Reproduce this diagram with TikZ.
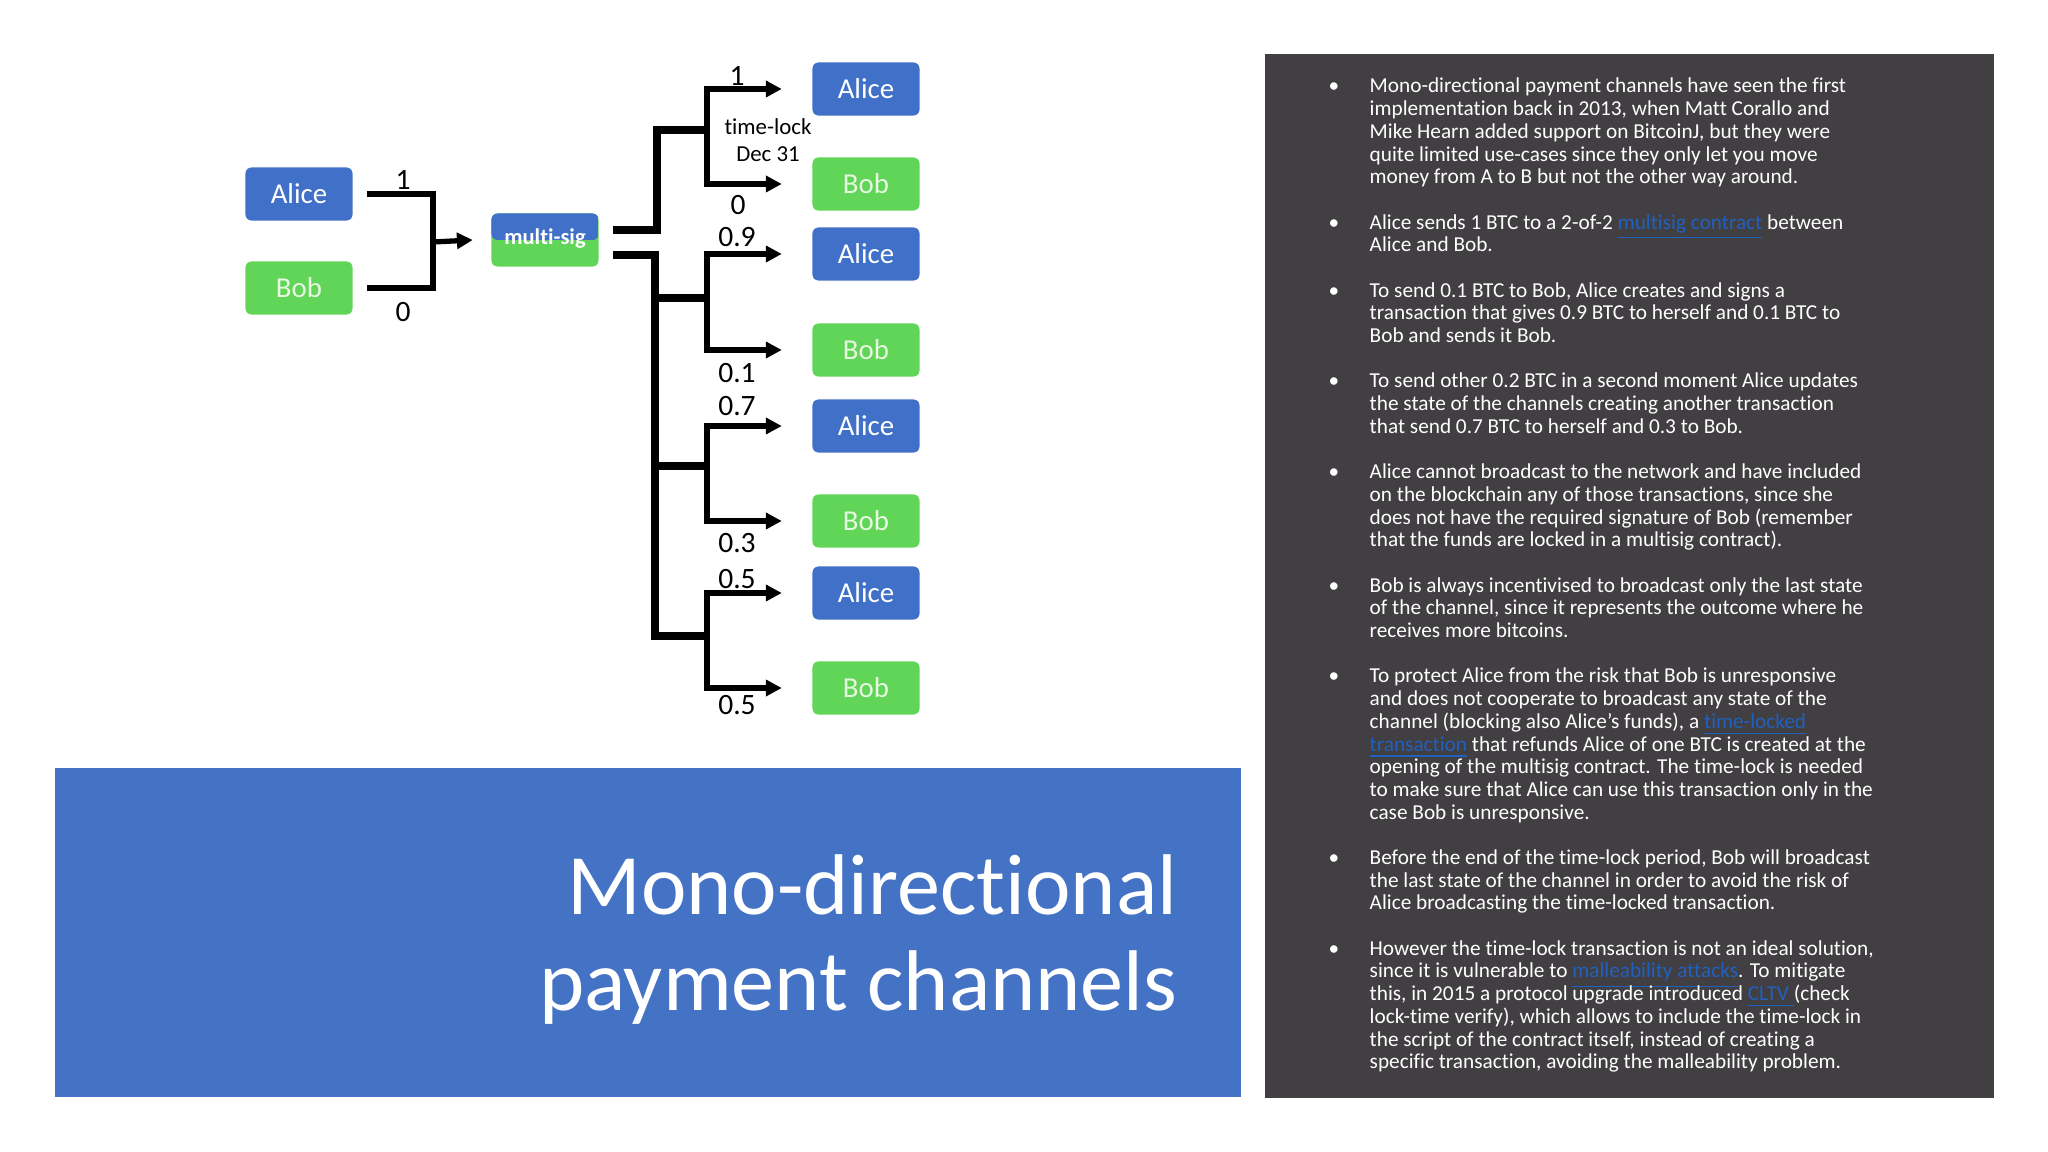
\documentclass[tikz,border=0pt]{standalone}
\usepackage{fontspec}
\setmainfont{Carlito}[Ligatures=NoCommon]
\usetikzlibrary{arrows.meta}
\definecolor{slideblue}{RGB}{68,114,196}
\definecolor{boxblue}{RGB}{64,112,200}
\definecolor{boxgreen}{RGB}{96,213,88}
\definecolor{bobtext}{RGB}{232,248,224}
\definecolor{panelgray}{RGB}{66,63,66}
\definecolor{linkblue}{RGB}{32,96,190}
\newcommand{\lnk}[1]{\smash{\textcolor{linkblue}{\underline{#1}}}}
\newcommand{\plines}[1]{\begin{tabular}[t]{@{}l@{}}#1\end{tabular}}

\begin{document}
\begin{tikzpicture}[x=0.01cm,y=-0.01cm,
  party/.style={rounded corners=0.06cm, minimum width=1.07cm, minimum height=0.53cm, inner sep=0, font=\fontsize{8.2}{9}\selectfont},
  alice/.style={party, fill=boxblue, text=white},
  bob/.style={party, fill=boxgreen, text=bobtext},
  wire/.style={line width=1.5pt},
  trunk/.style={line width=2pt},
  tip/.style={-{Triangle[length=4.5pt,width=4.5pt]}},
  amt/.style={inner sep=0, font=\fontsize{8.4}{9}\selectfont},
  title/.style={anchor=base east, inner sep=0, text=white, font=\fontsize{24.5}{27}\selectfont},
  para/.style={anchor=base west, inner sep=0, text=white, font=\fontsize{6.05}{6.455}\selectfont},
  bul/.style={anchor=base, inner sep=0, text=white, font=\fontsize{6.05}{6.455}\selectfont}]
  \useasboundingbox (0,0) rectangle (2048,1152);

  % funding
  \node[alice] (la) at (299,194) {Alice};
  \node[bob] (lb) at (299,288) {Bob};
  \node[party, fill=boxgreen, text=white, font=\bfseries\fontsize{6.4}{7}\selectfont,
    path picture={\fill[boxblue] (path picture bounding box.north west) rectangle (path picture bounding box.east);}]
    (ms) at (545,240) {\raisebox{2pt}{multi-sig}};
  \node[amt] (l1) at (403,180) {1};
  \node[amt] (l0) at (403,312) {0};
  \coordinate (jl) at (433,242);
  \draw[wire] ([xshift=0.14cm]la.east) -| (jl) |- ([xshift=0.14cm]lb.east);
  \draw[wire,tip] (jl) -- ([xshift=-0.18cm]ms.west);

  % channel states
  \node[alice] (a1) at (866,89) {Alice};
  \node[bob] (b1) at (866,184) {Bob};
  \node[alice] (a2) at (866,254) {Alice};
  \node[bob] (b2) at (866,350) {Bob};
  \node[alice] (a3) at (866,426) {Alice};
  \node[bob] (b3) at (866,521) {Bob};
  \node[alice] (a4) at (866,593) {Alice};
  \node[bob] (b4) at (866,688) {Bob};
  \coordinate (g1) at (707,130);
  \coordinate (g2) at (707,298);
  \coordinate (g3) at (707,466);
  \coordinate (g4) at (707,636);
  \draw[trunk] ([shift={(14,-10)}]ms.east) -| (657,130) -- (g1);
  \draw[trunk] ([shift={(14,15)}]ms.east) -| (655,636) -- (g4);
  \draw[trunk] (655,298) -- (g2);
  \draw[trunk] (655,466) -- (g3);
  \draw[wire,tip,shorten >=0.3cm] (g1) |- (a1);
  \draw[wire,tip,shorten >=0.3cm] (g1) |- (b1);
  \draw[wire,tip,shorten >=0.3cm] (g2) |- (a2);
  \draw[wire,tip,shorten >=0.3cm] (g2) |- (b2);
  \draw[wire,tip,shorten >=0.3cm] (g3) |- (a3);
  \draw[wire,tip,shorten >=0.3cm] (g3) |- (b3);
  \draw[wire,tip,shorten >=0.3cm] (g4) |- (a4);
  \draw[wire,tip,shorten >=0.3cm] (g4) |- (b4);
  \node[amt] (v1) at (737,76) {1};
  \node[inner sep=0, align=center, font=\fontsize{6.5}{7.7}\selectfont] (lock) at (768,140) {time-lock\\Dec 31};
  \node[amt] (w1) at (738,205) {0};
  \node[amt] (v2) at (737,237) {0.9};
  \node[amt] (w2) at (737,373) {0.1};
  \node[amt] (v3) at (737,406) {0.7};
  \node[amt] (w3) at (737,543) {0.3};
  \node[amt] (v4) at (737,579) {0.5};
  \node[amt] (w4) at (737,705) {0.5};

  % title
  \fill[slideblue] (55,768) rectangle (1241,1097);
  \node[title] (t1) at (1178,914) {Mono-directional};
  \node[title] (t2) at (1178,1010) {payment channels};

  % notes
  \fill[panelgray] (1265,54) rectangle (1994,1098);
  \node[bul] (d1) at (1334,93) {•};
  \node[para] (p1) at (1369,93) {\plines{Mono-directional payment channels have seen the first\\
    implementation back in 2013, when Matt Corallo and\\
    Mike Hearn added support on BitcoinJ, but they were\\
    quite limited use-cases since they only let you move\\
    money from A to B but not the other way around.}};
  \node[bul] (d2) at (1334,229.1) {•};
  \node[para] (p2) at (1369,229.1) {\plines{Alice sends 1 BTC to a 2-of-2 \lnk{multisig contract} between\\
    Alice and Bob.}};
  \node[bul] (d3) at (1334,297.2) {•};
  \node[para] (p3) at (1369,297.2) {\plines{To send 0.1 BTC to Bob, Alice creates and signs a\\
    transaction that gives 0.9 BTC to herself and 0.1 BTC to\\
    Bob and sends it Bob.}};
  \node[bul] (d4) at (1334,388) {•};
  \node[para] (p4) at (1369,388) {\plines{To send other 0.2 BTC in a second moment Alice updates\\
    the state of the channels creating another transaction\\
    that send 0.7 BTC to herself and 0.3 to Bob.}};
  \node[bul] (d5) at (1334,478.7) {•};
  \node[para] (p5) at (1369,478.7) {\plines{Alice cannot broadcast to the network and have included\\
    on the blockchain any of those transactions, since she\\
    does not have the required signature of Bob (remember\\
    that the funds are locked in a multisig contract).}};
  \node[bul] (d6) at (1334,592.2) {•};
  \node[para] (p6) at (1369,592.2) {\plines{Bob is always incentivised to broadcast only the last state\\
    of the channel, since it represents the outcome where he\\
    receives more bitcoins.}};
  \node[bul] (d7) at (1334,682.9) {•};
  \node[para] (p7) at (1369,682.9) {\plines{To protect Alice from the risk that Bob is unresponsive\\
    and does not cooperate to broadcast any state of the\\
    channel (blocking also Alice’s funds), a \lnk{time-locked}\\
    \lnk{transaction} that refunds Alice of one BTC is created at the\\
    opening of the multisig contract. The time-lock is needed\\
    to make sure that Alice can use this transaction only in the\\
    case Bob is unresponsive.}};
  \node[bul] (d8) at (1334,864.5) {•};
  \node[para] (p8) at (1369,864.5) {\plines{Before the end of the time-lock period, Bob will broadcast\\
    the last state of the channel in order to avoid the risk of\\
    Alice broadcasting the time-locked transaction.}};
  \node[bul] (d9) at (1334,955.2) {•};
  \node[para] (p9) at (1369,955.2) {\plines{However the time-lock transaction is not an ideal solution,\\
    since it is vulnerable to \lnk{malleability attacks}. To mitigate\\
    this, in 2015 a protocol upgrade introduced \lnk{CLTV }(check\\
    lock-time verify), which allows to include the time-lock in\\
    the script of the contract itself, instead of creating a\\
    specific transaction, avoiding the malleability problem.}};
\end{tikzpicture}
\end{document}
